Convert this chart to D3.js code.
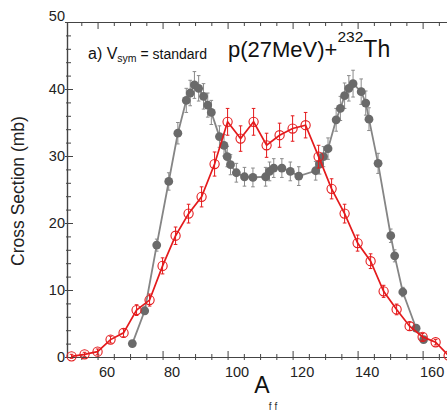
<!DOCTYPE html>
<html>
<head>
<meta charset="utf-8">
<script src="https://cdn.jsdelivr.net/npm/d3@7"></script>
<style>
  body { margin: 0; background: #fff; }
  svg { display: block; font-family: "Liberation Sans", Arial, sans-serif; }
</style>
</head>
<body>
<svg id="chart" width="447" height="411"></svg>
<script>
// model (grey, filled circles)
const greyA = [70.7, 74.5, 78.2, 81.9, 84.7, 87.3, 88.5, 89.8, 91.1, 92.6, 93.9, 95.0, 97.5, 98.9, 99.9, 100.9,
  102.7, 105.2, 107.8, 111.7, 112.9, 114.2, 116.7, 119.3, 121.9, 127.1, 128.3, 129.5, 130.9, 133.4, 134.7,
  136.0, 137.3, 138.6, 141.1, 142.5, 143.5, 146.3, 150.2, 151.4, 153.9, 158.0, 160.3];
const greyValues = [2.0, 6.9, 16.7, 26.2, 33.4, 38.3, 39.4, 40.6, 40.1, 38.9, 37.6, 36.5, 32.9, 31.6, 29.9, 28.7,
  27.5, 26.9, 26.8, 26.9, 27.7, 28.2, 28.2, 27.7, 27.0, 27.8, 28.8, 29.9, 31.1, 35.4, 37.1,
  39.0, 40.1, 40.8, 39.6, 37.9, 35.5, 28.9, 18.1, 15.1, 9.7, 4.3, 2.6];
const greyErrors = [0.3, 0.5, 0.9, 1.3, 1.6, 1.8, 1.9, 2.0, 1.9, 1.9, 1.8, 1.8, 1.6, 1.6, 1.5, 1.5,
  1.4, 1.4, 1.4, 1.4, 1.4, 1.4, 1.4, 1.4, 1.4, 1.4, 1.5, 1.5, 1.6, 1.7, 1.8,
  1.9, 1.9, 2.0, 1.9, 1.8, 1.7, 1.5, 1.0, 0.9, 0.7, 0.4, 0.3];

// data (red, open circles)
const redA = [52, 56, 60, 64, 68, 72, 76, 80, 84, 88, 92, 96, 100, 104, 108, 112, 116, 120, 124, 128,
  132, 136, 140, 144, 148, 152, 156, 160, 164, 168];
const redValues = [0.1, 0.4, 0.8, 2.6, 3.6, 7.0, 8.5, 13.6, 18.1, 21.4, 23.9, 28.8, 35.1, 32.6, 35.1, 31.6,
  33.1, 34.1, 34.6, 29.9, 25.1, 21.4, 17.0, 14.3, 9.8, 7.1, 4.6, 3.0, 2.2, 0.2];
const redErrors = [0.3, 0.3, 0.4, 0.5, 0.6, 0.8, 0.9, 1.2, 1.3, 1.4, 1.5, 1.8, 2.0, 1.9, 2.0, 1.8,
  1.8, 1.9, 1.9, 1.7, 1.5, 1.4, 1.2, 1.1, 0.9, 0.8, 0.6, 0.5, 0.4, 0.3];

const xMajorTicks = [60, 80, 100, 120, 140, 160];
const yMajorTicks = [0, 10, 20, 30, 40, 50];

const svg = d3.select("#chart");
const plotLeft = 67, plotRight = 447, plotTop = 22, plotBottom = 357;

const x = d3.scaleLinear().domain([50.6, 167.5]).range([plotLeft, plotRight]);
const y = d3.scaleLinear().domain([0, 50]).range([plotBottom, plotTop]);

const axisColor = "#444";
const greyLine = "#858585", greyDot = "#6a6a6a";
const red = "#e41a1c";

function styleAxis(g) {
  g.select(".domain").attr("stroke", axisColor).attr("stroke-width", 1.2);
  g.selectAll(".tick line").attr("stroke", axisColor).attr("stroke-width", 1);
}

// bottom axis
const xMinor = d3.range(55, 168, 5).filter((d) => !xMajorTicks.includes(d));
svg.append("g")
  .attr("transform", `translate(0,${plotBottom})`)
  .call(d3.axisBottom(x).tickValues(xMinor).tickSize(0).tickSizeOuter(0).tickFormat(""))
  .call(styleAxis)
  .call((g) => g.selectAll(".tick line").attr("y1", 3).attr("y2", -3));
svg.append("g")
  .attr("transform", `translate(0,${plotBottom})`)
  .call(d3.axisBottom(x).tickValues(xMajorTicks).tickSize(0).tickSizeOuter(0).tickPadding(10))
  .call(styleAxis)
  .call((g) => g.selectAll(".tick line").attr("y1", 3).attr("y2", -6))
  .call((g) => g.selectAll(".tick text")
    .attr("font-size", 14.5).attr("fill", "#222").attr("dx", 9)
    .attr("font-family", "Liberation Sans, Arial, sans-serif"));

// top axis (ticks only)
svg.append("g")
  .attr("transform", `translate(0,${plotTop})`)
  .call(d3.axisTop(x).tickValues(xMinor).tickSize(-4).tickSizeOuter(0).tickFormat(""))
  .call(styleAxis);
svg.append("g")
  .attr("transform", `translate(0,${plotTop})`)
  .call(d3.axisTop(x).tickValues(xMajorTicks).tickSize(-7).tickSizeOuter(0).tickFormat(""))
  .call(styleAxis);

// left axis
const yMinor = d3.range(0, 51, 2).filter((d) => !yMajorTicks.includes(d));
svg.append("g")
  .attr("transform", `translate(${plotLeft},0)`)
  .call(d3.axisLeft(y).tickValues(yMinor).tickSize(0).tickSizeOuter(0).tickFormat(""))
  .call(styleAxis)
  .call((g) => g.selectAll(".tick line").attr("x1", -1).attr("x2", 4));
svg.append("g")
  .attr("transform", `translate(${plotLeft},0)`)
  .call(d3.axisLeft(y).tickValues(yMajorTicks).tickSize(0).tickSizeOuter(0).tickPadding(2))
  .call(styleAxis)
  .call((g) => g.selectAll(".tick line").attr("x1", -2).attr("x2", 6))
  .call((g) => g.selectAll(".tick text")
    .attr("font-size", 14.5).attr("fill", "#222")
    .attr("font-family", "Liberation Sans, Arial, sans-serif")
    .attr("dy", (d) => (d === 50 ? "-0.1em" : "0.32em")));

// series
function drawSeries(xs, ys, errs, opts) {
  const pts = xs.map((a, i) => ({ a, v: ys[i], e: errs[i] }));
  const g = svg.append("g");

  g.append("path")
    .datum(pts)
    .attr("fill", "none")
    .attr("stroke", opts.line)
    .attr("stroke-width", opts.lineWidth)
    .attr("d", d3.line().x((d) => x(d.a)).y((d) => y(d.v)));

  const bars = g.append("g").attr("stroke", opts.bar).attr("stroke-width", 1);
  bars.selectAll("line.err")
    .data(pts)
    .join("line")
    .attr("class", "err")
    .attr("x1", (d) => x(d.a)).attr("x2", (d) => x(d.a))
    .attr("y1", (d) => y(d.v - d.e)).attr("y2", (d) => y(d.v + d.e));
  ["lo", "hi"].forEach((s) => {
    bars.selectAll(`line.cap-${s}`)
      .data(pts)
      .join("line")
      .attr("class", `cap-${s}`)
      .attr("x1", (d) => x(d.a) - 1.8).attr("x2", (d) => x(d.a) + 1.8)
      .attr("y1", (d) => y(s === "lo" ? d.v - d.e : d.v + d.e))
      .attr("y2", (d) => y(s === "lo" ? d.v - d.e : d.v + d.e));
  });

  g.selectAll("circle")
    .data(pts)
    .join("circle")
    .attr("cx", (d) => x(d.a))
    .attr("cy", (d) => y(d.v))
    .attr("r", opts.r)
    .attr("fill", opts.fill)
    .attr("stroke", opts.stroke)
    .attr("stroke-width", opts.strokeWidth);
}

drawSeries(greyA, greyValues, greyErrors, {
  line: greyLine, lineWidth: 1.8, bar: "#8a8a8a", r: 4.4, fill: greyDot, stroke: "none", strokeWidth: 0,
});
drawSeries(redA, redValues, redErrors, {
  line: red, lineWidth: 1.7, bar: red, r: 4.6, fill: "none", stroke: red, strokeWidth: 1.1,
});

// axis titles
svg.append("text")
  .attr("transform", `translate(24,191) rotate(-90)`)
  .attr("text-anchor", "middle")
  .attr("font-size", 17.5)
  .attr("fill", "#222")
  .text("Cross Section (mb)");

svg.append("text")
  .attr("x", 262).attr("y", 393)
  .attr("text-anchor", "middle")
  .attr("font-size", 23)
  .attr("fill", "#111")
  .text("A");
svg.append("text")
  .attr("x", 273).attr("y", 410)
  .attr("text-anchor", "middle")
  .attr("font-size", 10)
  .attr("fill", "#333")
  .text("f f");

// annotation
const note = svg.append("text").attr("x", 88).attr("y", 59).attr("fill", "#111");
note.append("tspan").attr("font-size", 16).text("a) V");
note.append("tspan").attr("font-size", 10.5).attr("dy", 3).text("sym");
note.append("tspan").attr("font-size", 14).attr("dy", -3).text(" = standard");

const title = svg.append("text").attr("x", 228).attr("y", 57).attr("fill", "#111");
title.append("tspan").attr("font-size", 22).text("p(27MeV)+");
title.append("tspan").attr("font-size", 15.5).attr("dy", -15).text("232");
title.append("tspan").attr("font-size", 23).attr("dy", 15).text("Th");
</script>
</body>
</html>
